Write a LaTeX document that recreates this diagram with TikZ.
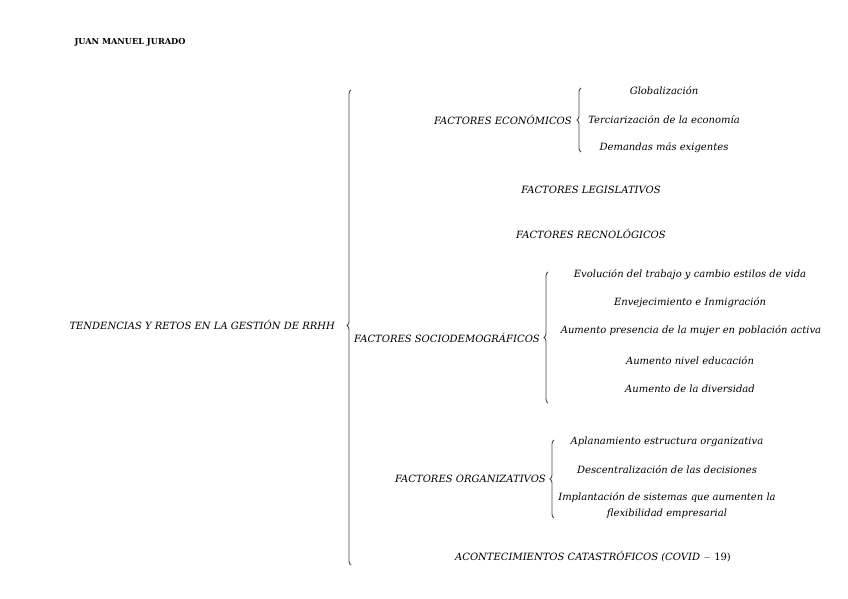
\documentclass[tikz,border=0pt]{standalone}
\usepackage{fontspec}
\setmainfont{DejaVu Serif}
\usepackage{tikz}
\usetikzlibrary{decorations.pathreplacing}
\definecolor{bracegray}{HTML}{4A4A4A}

\begin{document}
\begin{tikzpicture}[
    x=1pt,y=-1pt,
    font=\fontsize{10}{11}\selectfont\itshape,
    factor/.style={inner sep=1pt},
    item/.style={inner sep=1pt,align=center},
    llave/.style={draw=bracegray,line width=0.9pt,
      decorate,decoration={brace,amplitude=4pt,aspect=#1}},
    llave/.default=0.5,
  ]
    \useasboundingbox (0,0) rectangle (848,599);
    \node[font=\fontsize{8.2}{9}\selectfont\bfseries,anchor=west] (autor) at (71,42) {JUAN MANUEL JURADO};

    \node[factor,anchor=east] (tema) at (336,325) {TENDENCIAS Y RETOS EN LA GESTIÓN DE RRHH};
    \coordinate (b0top) at (351,90);
    \coordinate (b0bot) at (351,565);
    \draw[llave=0.504] (b0bot) -- (b0top);

    % economicos
    \node[factor,anchor=east] (econ) at (573,120) {FACTORES ECONÓMICOS};
    \coordinate (b1top) at (581,88);
    \coordinate (b1bot) at (581,152);
    \draw[llave] (b1bot) -- (b1top);
    \node[item] (glob) at (664,91) {Globalización};
    \node[item] (terc) at (664,120) {Terciarización de la economía};
    \node[item] (dema) at (664,148) {Demandas más exigentes};

    \node[factor] (legi) at (591,190) {FACTORES LEGISLATIVOS};
    \node[factor] (tecn) at (591,234) {FACTORES RECNOLÓGICOS};

    % sociodemograficos
    \node[factor,anchor=west] (soci) at (353,338) {FACTORES SOCIODEMOGRÁFICOS};
    \coordinate (b2top) at (548,272);
    \coordinate (b2bot) at (548,403);
    \draw[llave] (b2bot) -- (b2top);
    \node[item] (evol) at (690,275) {Evolución del trabajo y cambio estilos de vida};
    \node[item] (enve) at (690,303) {Envejecimiento e Inmigración};
    \node[item] (muje) at (691,331) {Aumento presencia de la mujer en población activa};
    \node[item] (educ) at (690,361) {Aumento nivel educación};
    \node[item] (dive) at (690,389) {Aumento de la diversidad};

    % organizativos
    \node[factor,anchor=east] (orga) at (547,479) {FACTORES ORGANIZATIVOS};
    \coordinate (b3top) at (554,440);
    \coordinate (b3bot) at (554,518);
    \draw[llave] (b3bot) -- (b3top);
    \node[item] (apla) at (667,442) {Aplanamiento estructura organizativa};
    \node[item] (desc) at (667,470) {Descentralización de las decisiones};
    \node[item,font=\fontsize{10}{16}\selectfont\itshape] (impl) at (667,506)
      {Implantación de sistemas que aumenten la\\flexibilidad empresarial};

    \node[factor] (cata) at (593,557) {ACONTECIMIENTOS CATASTRÓFICOS (COVID $-$ \upshape 19)};
  \end{tikzpicture}
\end{document}
